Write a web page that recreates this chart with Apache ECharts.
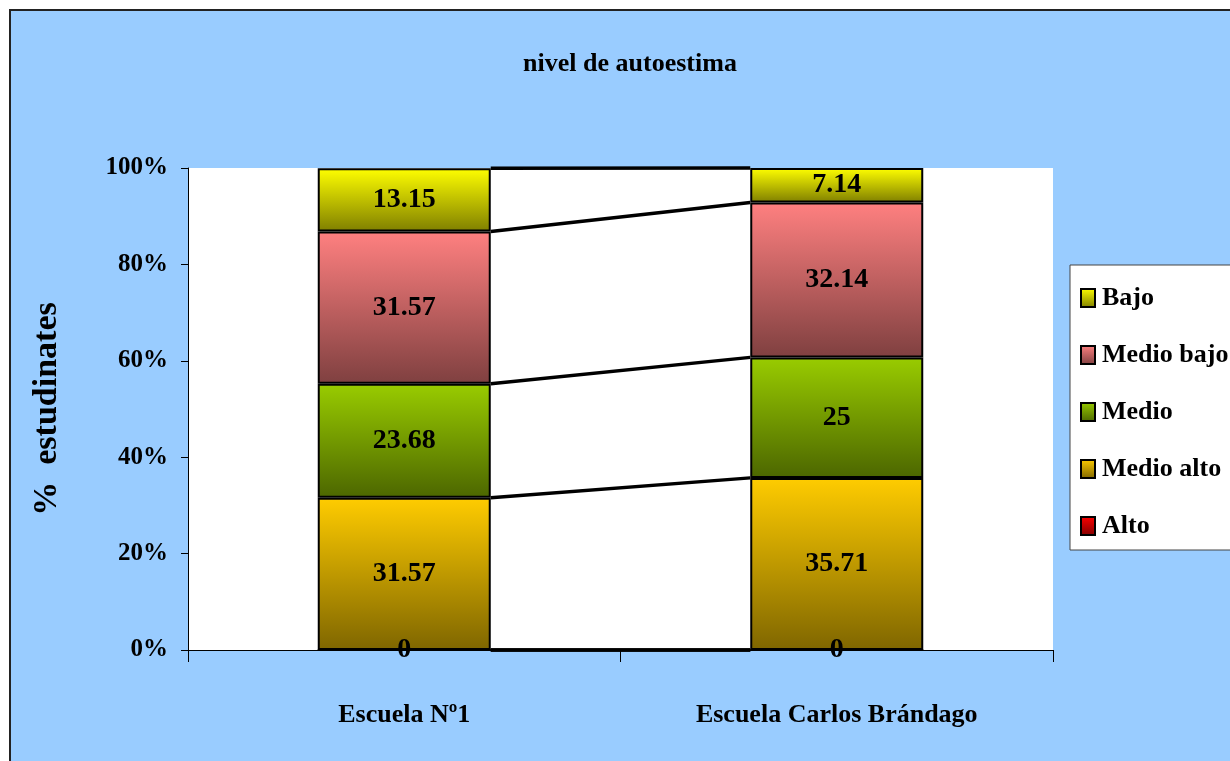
<!DOCTYPE html>
<html>
<head>
<meta charset="utf-8">
<script src="https://cdn.jsdelivr.net/npm/echarts@6/dist/echarts.min.js"></script>
<style>
  html, body { margin: 0; padding: 0; background: #fff; overflow: hidden; }
  #frame { position: absolute; left: 9px; top: 9px; width: 1300px; height: 800px;
           background: #99CCFF; border: 2px solid #222; }
  #chart { position: absolute; left: 0; top: 0; width: 1230px; height: 761px; }
</style>
</head>
<body>
<div id="frame"></div>
<div id="chart"></div>
<script>
// Schools compared
const categories = ['Escuela Nº1', 'Escuela Carlos Brándago'];

// Share of students (%) at each self-esteem level
const alto      = [0, 0];
const medioAlto = [31.57, 35.71];
const medio     = [23.68, 25];
const medioBajo = [31.57, 32.14];
const bajo      = [13.15, 7.14];

// Legend order (top to bottom)
const legendOrder = ['Bajo', 'Medio bajo', 'Medio', 'Medio alto', 'Alto'];

const FONT = 'Liberation Serif';

function grad(top, bottom) {
  return new echarts.graphic.LinearGradient(0, 0, 0, 1, [
    { offset: 0, color: top },
    { offset: 1, color: bottom }
  ]);
}

// Stack from bottom to top
const stackDefs = [
  { name: 'Alto',       data: alto,      color: grad('#FF0000', '#800000') },
  { name: 'Medio alto', data: medioAlto, color: grad('#FFCC00', '#7F6600') },
  { name: 'Medio',      data: medio,     color: grad('#99CC00', '#4C6600') },
  { name: 'Medio bajo', data: medioBajo, color: grad('#FF8080', '#7F4040') },
  { name: 'Bajo',       data: bajo,      color: grad('#FFFF00', '#7F7F00') }
];

// Cumulative boundaries between stacked segments, for the connector lines
const boundaries = [[0, 0, 0]];
let cum0 = 0, cum1 = 0;
stackDefs.forEach(s => {
  cum0 += s.data[0];
  cum1 += s.data[1];
  boundaries.push([0, cum0, cum1]);
});

const BAR_FRACTION = 0.4;

const barSeries = stackDefs.map(s => ({
  name: s.name,
  type: 'bar',
  stack: 'total',
  barWidth: (BAR_FRACTION * 100) + '%',
  data: s.data,
  itemStyle: { color: s.color, borderColor: '#000', borderWidth: 2 },
  label: {
    show: true,
    position: 'inside',
    color: '#000',
    fontFamily: FONT,
    fontWeight: 'bold',
    fontSize: 28,
    formatter: p => String(p.value)
  },
  emphasis: { disabled: true }
}));

const lineSeries = {
  type: 'custom',
  name: 'connectors',
  silent: true,
  z: 3,
  data: boundaries,
  encode: { x: 0, y: 1 },
  renderItem: function (params, api) {
    const a = api.coord([0, api.value(1)]);
    const b = api.coord([1, api.value(2)]);
    const half = api.size([1, 0])[0] * BAR_FRACTION / 2;
    return {
      type: 'line',
      shape: { x1: a[0] + half, y1: a[1], x2: b[0] - half, y2: b[1] },
      style: { stroke: '#000', lineWidth: 3.5 }
    };
  }
};

const chart = echarts.init(document.getElementById('chart'), null, { renderer: 'canvas' });

chart.setOption({
  backgroundColor: 'transparent',
  animation: false,
  title: {
    text: 'nivel de autoestima',
    left: 625,
    top: 46,
    textAlign: 'center',
    textStyle: { fontFamily: FONT, fontWeight: 'bold', fontSize: 26, color: '#000' }
  },
  legend: {
    data: legendOrder,
    orient: 'vertical',
    left: 1070,
    top: 265,
    padding: [18, 20, 9, 10],
    itemGap: 27,
    itemWidth: 14,
    itemHeight: 18,
    icon: 'rect',
    backgroundColor: '#fff',
    borderColor: '#444',
    borderWidth: 1,
    selectedMode: false,
    textStyle: {
      fontFamily: FONT, fontWeight: 'bold', fontSize: 26, color: '#000',
      lineHeight: 30, padding: [0, 0, 0, 2]
    }
  },
  grid: {
    left: 188, right: 177, top: 168, bottom: 111,
    show: true, backgroundColor: '#fff', borderWidth: 0
  },
  xAxis: {
    type: 'category',
    data: categories,
    axisLine: { lineStyle: { color: '#000', width: 1 } },
    axisTick: { show: true, length: 12, lineStyle: { color: '#000' } },
    axisLabel: {
      margin: 52,
      color: '#000', fontFamily: FONT, fontWeight: 'bold', fontSize: 26
    }
  },
  yAxis: {
    type: 'value',
    min: 0,
    max: 100,
    interval: 20,
    name: '%  estudinates',
    nameLocation: 'middle',
    nameGap: 124,
    nameRotate: 90,
    nameTextStyle: { fontFamily: FONT, fontWeight: 'bold', fontSize: 34, color: '#000' },
    axisLine: { show: true, lineStyle: { color: '#000', width: 1 } },
    axisTick: { show: true, length: 7, lineStyle: { color: '#000' } },
    splitLine: { show: false },
    axisLabel: {
      margin: 20,
      formatter: '{value}%',
      color: '#000', fontFamily: FONT, fontWeight: 'bold', fontSize: 25
    }
  },
  series: [...barSeries, lineSeries]
});
</script>
</body>
</html>
